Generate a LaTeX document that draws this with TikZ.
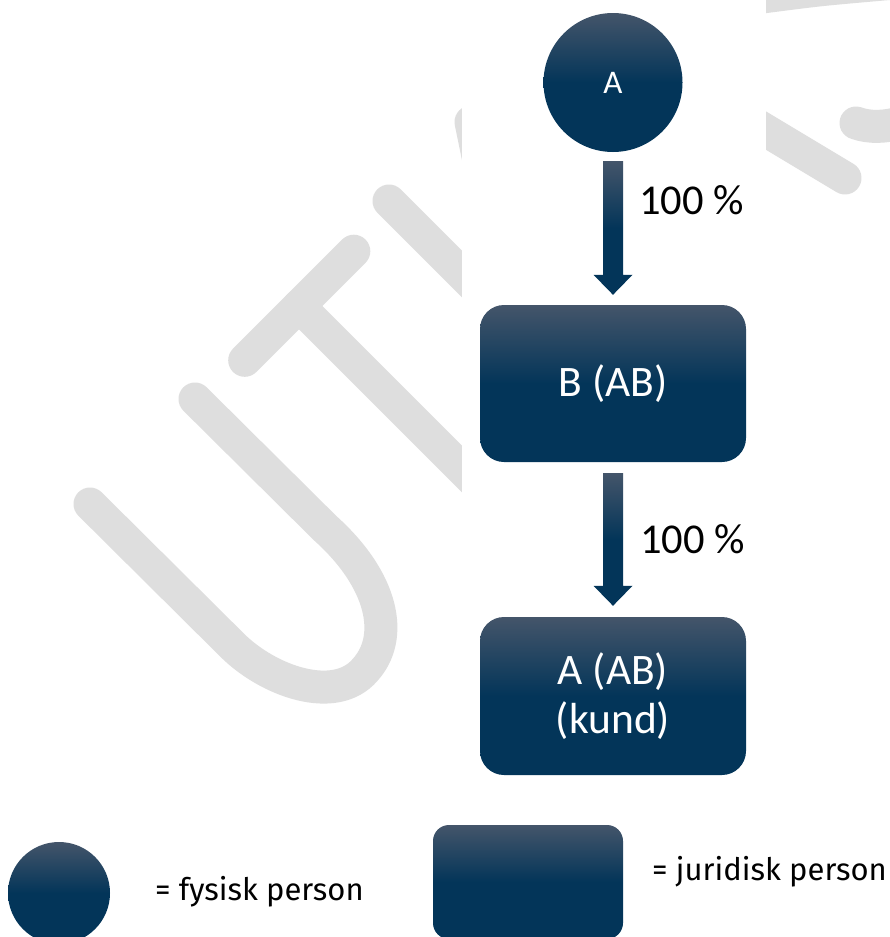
\documentclass[tikz,border=0pt]{standalone}
\usepackage{fontspec}
\setmainfont{Carlito}
\newfontfamily\legfont{Fira Sans}
\usetikzlibrary{calc}
\definecolor{navytop}{RGB}{68,85,106}
\definecolor{navydark}{RGB}{3,53,89}
\definecolor{wmgray}{RGB}{222,222,222}
\tikzset{
  navyfill/.style={top color=navytop, bottom color=navydark, middle color=navydark, draw=none},
  entity/.style={navyfill, rounded corners=24pt, minimum width=266pt, minimum height=157pt, inner sep=0pt, text=white, font=\fontsize{43.5}{49}\selectfont, align=center},
  person/.style={navyfill, circle, inner sep=0pt, text=white},
  pct/.style={font=\fontsize{42.5}{50}\selectfont, text=black, inner sep=0pt, anchor=base west},
  legtext/.style={font=\legfont\fontsize{31}{36}\selectfont, text=black, inner sep=0pt, anchor=base west},
  wm/.style={draw=wmgray, line width=33pt, line cap=round, line join=round},
}
\begin{document}
\begin{tikzpicture}[x=1pt,y=-1pt]
\useasboundingbox (0,0) rectangle (890,937);
\fill[white] (0,0) rectangle (890,937);
% watermark
\begin{scope}
\clip (0,0) rectangle (890,937);
\draw[wm] (90,504) -- (232,645) .. controls (268,681) and (335,705) .. (365,670) .. controls (395,637) and (383,580) .. (325,528) -- (195,399);
\draw[wm] (244.7,360.3) -- (353.8,251.2);
\draw[wm] (299,306) -- (520,527);
\draw[wm] (389,201) -- (620,432);
\draw[wm] (487,200) -- (471,122);
\draw[wm] (700,91) -- (845,178);
\draw[wm] plot[smooth] coordinates {(740,0) (766,-3.5) (823,-10.5) (895,-17)};
\draw[wm] (856,123) .. controls (870,128) and (885,127) .. (900,123);
\fill[white] (462,-5) rectangle (766,940);
\end{scope}
% diagram
\node[person, minimum size=139pt, font=\fontsize{33}{40}\selectfont] (circA) at (613,82.5) {A};
\node[entity] (boxB) at (613,383.5) {B (AB)};
\node[entity, minimum height=158pt] (boxA) at (613,696) {A (AB)\\(kund)};
\coordinate (a1s) at ($(circA.south)+(0,9)$);
\coordinate (a1t) at ($(boxB.north)+(0,-10)$);
\shade[navyfill] ($(a1s)+(-10,0)$) -- ($(a1s)+(10,0)$) -- ($(a1t)+(10,-20)$) -- ($(a1t)+(19.5,-20)$) -- (a1t) -- ($(a1t)+(-19.5,-20)$) -- ($(a1t)+(-10,-20)$) -- cycle;
\coordinate (a2s) at ($(boxB.south)+(0,11)$);
\coordinate (a2t) at ($(boxA.north)+(0,-11)$);
\shade[navyfill] ($(a2s)+(-10,0)$) -- ($(a2s)+(10,0)$) -- ($(a2t)+(10,-20)$) -- ($(a2t)+(19.5,-20)$) -- (a2t) -- ($(a2t)+(-19.5,-20)$) -- ($(a2t)+(-10,-20)$) -- cycle;
\node[pct] (p1) at (639,214) {100 \%};
\node[pct] (p2) at (640,553) {100 \%};
% legend
\node[person, minimum size=102pt] (legC) at (59,893) {};
\node[legtext] (legCt) at (155,900) {= fysisk person};
\node[navyfill, rounded corners=16pt, minimum width=190pt, minimum height=114pt, inner sep=0pt] (legR) at (528,882) {};
\node[legtext] (legRt) at (652,880) {= juridisk person};
\end{tikzpicture}
\end{document}
